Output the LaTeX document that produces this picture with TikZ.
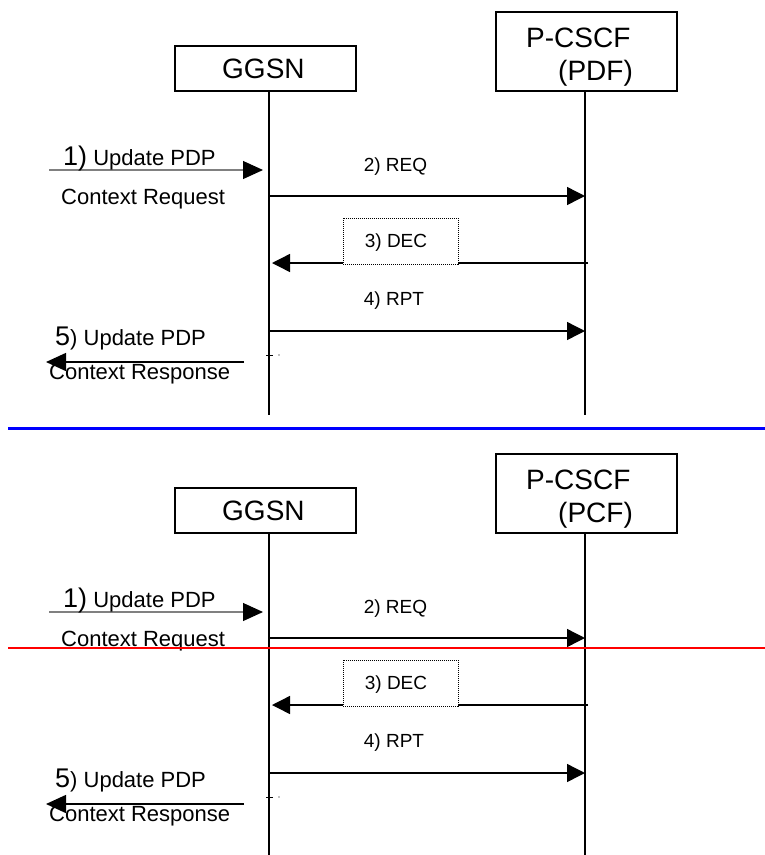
\documentclass[tikz,border=0pt]{standalone}
\usepackage{fontspec}
\setmainfont{Liberation Sans}
\usetikzlibrary{arrows.meta}

\begin{document}
\begin{tikzpicture}[
    x=1pt, y=-1pt,
    entity/.style={rectangle, draw, line width=1.2pt, inner sep=0pt, minimum width=181pt},
    big/.style={font=\fontsize{28}{32}\selectfont, inner sep=0pt, anchor=base west},
    lbl/.style={font=\fontsize{22}{26}\selectfont, inner sep=0pt, anchor=base west},
    msglbl/.style={font=\fontsize{19}{22}\selectfont, inner sep=0pt, anchor=base},
    life/.style={line width=1.2pt},
    msg/.style={-{Triangle[length=18pt, width=18pt]}, line width=1.4pt},
    ext/.style={-{Triangle[length=20pt, width=18pt, color=black]}, line width=1.4pt},
    decbox/.style={rectangle, draw, fill=white, line width=0.9pt, dash pattern=on 1pt off 1pt, minimum width=115pt, minimum height=46pt, inner sep=0pt}
]
\useasboundingbox (0,0) rectangle (765,855);

% Upper chart (PDF)
\node[entity, minimum height=45pt] (ggsnA) at (265.5,68.5) {};
\node[big] (ggsnAtxt) at (222,78.5) {GGSN};
\node[entity, minimum height=79pt] (pcscfA) at (586.5,51.5) {};
\node[big] (pcscfAtxt) at (526,47) {P-CSCF};
\node[big] (pdfAtxt) at (558,80) {(PDF)};

\coordinate (gEndA) at (269,415);
\coordinate (pEndA) at (585,415);
\draw[life] (gEndA |- ggsnA.south) -- (gEndA);
\draw[life] (pEndA |- pcscfA.south) -- (pEndA);

% Messages
\coordinate (m1sA) at (49,170);
\coordinate (m1eA) at (263,170);
\coordinate (m5sA) at (244,362);
\coordinate (m5eA) at (46,362);
\coordinate (m3sA) at (588,263);
\coordinate (m3eA) at (272,263);

\draw[ext, draw=gray, line width=1.1pt] (m1sA) -- (m1eA);
\node[lbl] (m1aA) at (63,165) {{\fontsize{27}{30}\selectfont 1)} Update PDP};
\node[lbl] (m1bA) at (61,204) {Context Request};

\draw[msg] (gEndA |- 0,196) -- (pEndA |- 0,196);
\node[msglbl] (reqA) at (395.5,171) {2) REQ};

\draw[msg] (m3sA) -- (m3eA);
\node[decbox] (decA) at (400.5,241) {};
\node[msglbl] (decAtxt) at (396,247) {3) DEC};

\node[msglbl] (rptA) at (394,305) {4) RPT};
\draw[msg] (gEndA |- 0,331) -- (pEndA |- 0,331);

\node[lbl] (m5aA) at (55,345) {{\fontsize{27}{30}\selectfont 5})\ Update PDP};
\draw[ext] (m5sA) -- (m5eA);
\node[lbl] (m5bA) at (49,379) {Context Response};
\draw[line width=0.6pt] (266,355) -- (273,355);
\fill (279,355) circle (0.6);

% Separator
\coordinate (sepL) at (8,428.5);
\coordinate (sepR) at (765,428.5);
\draw[blue, line width=3pt] (sepL) -- (sepR);

% Lower chart (PCF)
\begin{scope}[yshift=-442pt]
\node[entity, minimum height=45pt] (ggsnB) at (265.5,68.5) {};
\node[big] (ggsnBtxt) at (222,78.5) {GGSN};
\node[entity, minimum height=79pt] (pcscfB) at (586.5,51.5) {};
\node[big] (pcscfBtxt) at (526,47) {P-CSCF};
\node[big] (pcfBtxt) at (558,80) {(PCF)};

\coordinate (gEndB) at (269,414);
\coordinate (pEndB) at (585,414);
\draw[life] (gEndB |- ggsnB.south) -- (gEndB);
\draw[life] (pEndB |- pcscfB.south) -- (pEndB);

% Messages
\coordinate (m1sB) at (49,170);
\coordinate (m1eB) at (263,170);
\coordinate (m5sB) at (244,362);
\coordinate (m5eB) at (46,362);
\coordinate (m3sB) at (588,263);
\coordinate (m3eB) at (272,263);

\draw[ext, draw=gray, line width=1.1pt] (m1sB) -- (m1eB);
\node[lbl] (m1aB) at (63,165) {{\fontsize{27}{30}\selectfont 1)} Update PDP};
\node[lbl] (m1bB) at (61,204) {Context Request};

\draw[msg] (gEndB |- 0,196) -- (pEndB |- 0,196);
\node[msglbl] (reqB) at (395.5,171) {2) REQ};

\draw[msg] (m3sB) -- (m3eB);
\node[decbox] (decB) at (400.5,241) {};
\node[msglbl] (decBtxt) at (396,247) {3) DEC};

\node[msglbl] (rptB) at (394,305) {4) RPT};
\draw[msg] (gEndB |- 0,331) -- (pEndB |- 0,331);

\node[lbl] (m5aB) at (55,345) {{\fontsize{27}{30}\selectfont 5})\ Update PDP};
\draw[ext] (m5sB) -- (m5eB);
\node[lbl] (m5bB) at (49,379) {Context Response};
\draw[line width=0.6pt] (266,355) -- (273,355);
\fill (279,355) circle (0.6);

% Marker line
\coordinate (mkL) at (8,206);
\coordinate (mkR) at (765,206);
\draw[red, line width=1.5pt] (mkL) -- (mkR);
\end{scope}

\end{tikzpicture}
\end{document}
